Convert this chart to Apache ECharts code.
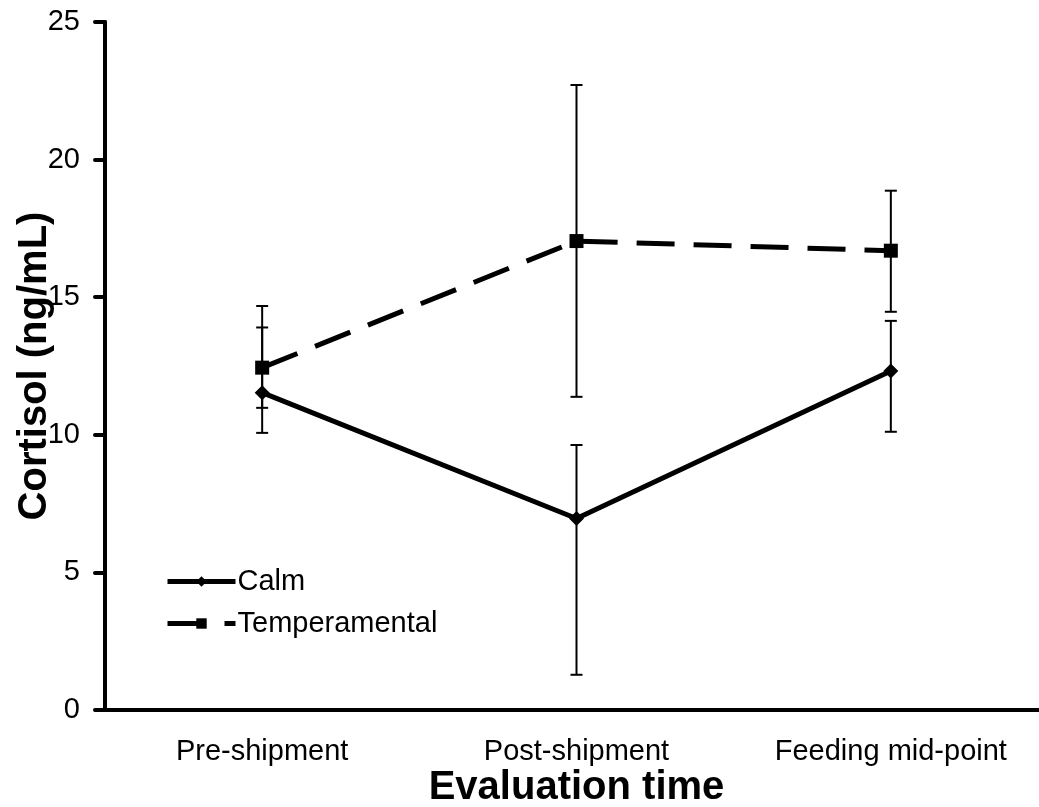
<!DOCTYPE html>
<html>
<head>
<meta charset="utf-8">
<script src="https://cdn.jsdelivr.net/npm/echarts@6/dist/echarts.min.js"></script>
<style>
html,body{margin:0;padding:0;background:#fff;}
#chart{width:1039px;height:807px;}
</style>
</head>
<body>
<div id="chart"></div>
<script>
// ---- data ----
var categories = ['Pre-shipment', 'Post-shipment', 'Feeding mid-point'];
var calmValues = [11.53, 6.96, 12.32];
var calmLow = [10.07, 1.28, 10.11];
var calmHigh = [13.9, 9.63, 14.14];
var tempValues = [12.44, 17.04, 16.69];
var tempLow = [10.98, 11.38, 14.47];
var tempHigh = [14.68, 22.71, 18.87];
var yTicks = { min: 0, max: 25, interval: 5 };
var seriesNames = ['Calm', 'Temperamental'];
var yTitle = 'Cortisol (ng/mL)';
var xTitle = 'Evaluation time';

var FONT = 'Liberation Sans, Arial, sans-serif';

function errData(low, high) {
  return categories.map(function (c, i) { return [i, low[i], high[i]]; });
}

function renderErr(params, api) {
  var x = api.value(0);
  var lo = api.coord([x, api.value(1)]);
  var hi = api.coord([x, api.value(2)]);
  var hw = 6;
  var style = { stroke: '#000', lineWidth: 2, fill: null };
  return {
    type: 'group',
    children: [
      { type: 'line', shape: { x1: lo[0], y1: lo[1], x2: hi[0], y2: hi[1] }, style: style },
      { type: 'line', shape: { x1: lo[0] - hw, y1: lo[1], x2: lo[0] + hw, y2: lo[1] }, style: style },
      { type: 'line', shape: { x1: hi[0] - hw, y1: hi[1], x2: hi[0] + hw, y2: hi[1] }, style: style }
    ]
  };
}

var chart = echarts.init(document.getElementById('chart'), null, { renderer: 'canvas' });
chart.setOption({
  animation: false,
  backgroundColor: '#fff',
  grid: { left: 105, top: 22, width: 943, height: 688, containLabel: false, outerBoundsMode: 'none' },
  legend: {
    orient: 'vertical',
    left: 165,
    top: 567,
    padding: 0,
    itemWidth: 68,
    itemHeight: 13,
    itemGap: 13,
    lineStyle: { width: 5 },
    textStyle: { fontFamily: FONT, fontSize: 29, color: '#000', padding: [0, 0, 0, -3] },
    data: seriesNames
  },
  xAxis: {
    type: 'category',
    data: categories,
    boundaryGap: true,
    axisLine: { lineStyle: { color: '#000', width: 4 } },
    axisTick: { show: false },
    axisLabel: { margin: 27, fontFamily: FONT, fontSize: 29, color: '#000' },
    name: xTitle,
    nameLocation: 'middle',
    nameGap: 58,
    nameMoveOverlap: false,
    nameTextStyle: { fontFamily: FONT, fontSize: 40, fontWeight: 'bold', color: '#000' }
  },
  yAxis: {
    type: 'value',
    min: yTicks.min,
    max: yTicks.max,
    interval: yTicks.interval,
    splitLine: { show: false },
    axisLine: { show: true, lineStyle: { color: '#000', width: 4 } },
    axisTick: { show: true, inside: false, length: 10, lineStyle: { color: '#000', width: 4, cap: 'round' } },
    axisLabel: { margin: 25, fontFamily: FONT, fontSize: 29, color: '#000' },
    name: yTitle,
    nameLocation: 'middle',
    nameGap: 50,
    nameMoveOverlap: false,
    nameTextStyle: { fontFamily: FONT, fontSize: 40, fontWeight: 'bold', color: '#000' }
  },
  series: [
    {
      type: 'custom', name: 'calmErr', renderItem: renderErr, data: errData(calmLow, calmHigh), z: 1, silent: true
    },
    {
      type: 'custom', name: 'tempErr', renderItem: renderErr, data: errData(tempLow, tempHigh), z: 1, silent: true
    },
    {
      name: seriesNames[0],
      type: 'line',
      data: calmValues,
      symbol: 'diamond',
      symbolSize: 15,
      itemStyle: { color: '#000' },
      lineStyle: { color: '#000', width: 5, type: 'solid' },
      z: 3
    },
    {
      name: seriesNames[1],
      type: 'line',
      data: tempValues,
      symbol: 'rect',
      symbolSize: 14,
      itemStyle: { color: '#000' },
      lineStyle: { color: '#000', width: 5, type: [38, 19] },
      z: 3
    }
  ]
});
</script>
</body>
</html>
